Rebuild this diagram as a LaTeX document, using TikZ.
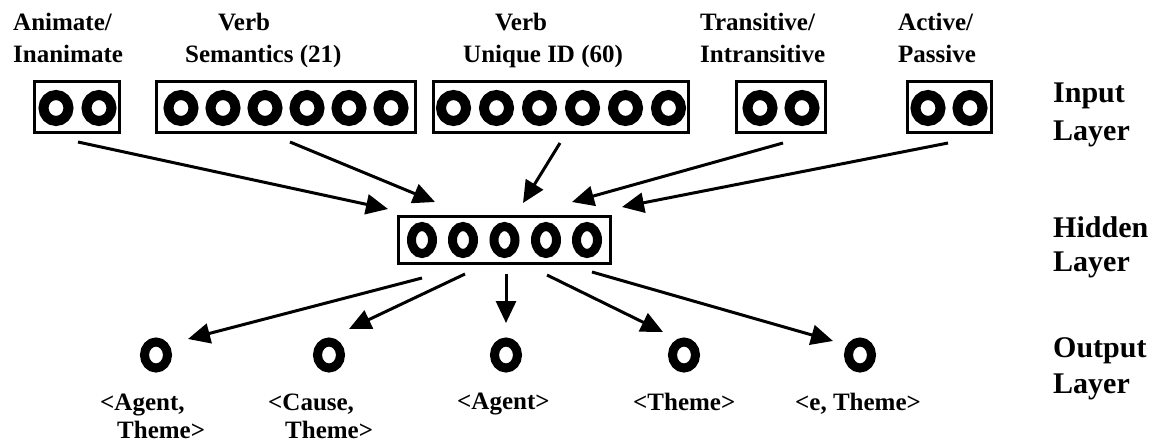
\documentclass[tikz,border=0pt]{standalone}
\usepackage{fontspec}
\setmainfont{Liberation Serif}
\usetikzlibrary{shapes.geometric,arrows.meta}
\tikzset{
  lbl/.style={inner sep=0pt, anchor=base west, font=\fontsize{25}{30}\selectfont\bfseries},
  layerlbl/.style={inner sep=0pt, anchor=base west, font=\fontsize{30}{36}\selectfont\bfseries},
  box/.style={draw, line width=3pt, rectangle, inner sep=0pt},
  inring/.style={draw, ellipse, line width=10pt, inner sep=0pt, minimum width=25pt, minimum height=26pt},
  hidring/.style={draw, ellipse, line width=9pt, inner sep=0pt, minimum width=21pt, minimum height=27pt},
  outring/.style={draw, ellipse, line width=9pt, inner sep=0pt, minimum width=23pt, minimum height=26pt},
  conn/.style={line width=3pt, -{Triangle[length=22pt,width=20pt]}}
}
\begin{document}
\begin{tikzpicture}[x=1pt,y=-1pt]
\useasboundingbox (0,0) rectangle (1149,445);
\fill[white] (0,0) rectangle (1149,445);

% input labels
\node[lbl] (l1a) at (13,30) {Animate/};
\node[lbl] (l1b) at (13,62) {Inanimate};
\node[lbl] (l2a) at (218,30) {Verb};
\node[lbl] (l2b) at (185,62) {Semantics (21)};
\node[lbl] (l3a) at (495,30) {Verb};
\node[lbl] (l3b) at (463,62) {Unique ID (60)};
\node[lbl] (l4a) at (700,30) {Transitive/};
\node[lbl] (l4b) at (700,62) {Intransitive};
\node[lbl] (l5a) at (898,30) {Active/};
\node[lbl] (l5b) at (898,62) {Passive};

% layer labels
\node[layerlbl] (inA) at (1053,102) {Input};
\node[layerlbl] (inB) at (1053,140) {Layer};
\node[layerlbl] (hiA) at (1053,237) {Hidden};
\node[layerlbl] (hiB) at (1053,271) {Layer};
\node[layerlbl] (ouA) at (1053,357) {Output};
\node[layerlbl] (ouB) at (1053,393) {Layer};

% input boxes
\node[box, minimum width=85pt, minimum height=51pt] (bAnim) at (77,106.5) {};
\node[box, minimum width=259pt, minimum height=51pt] (bSem) at (286,106.5) {};
\node[box, minimum width=255pt, minimum height=51pt] (bUid) at (561,106.5) {};
\node[box, minimum width=89pt, minimum height=51pt] (bTra) at (781,106.5) {};
\node[box, minimum width=84pt, minimum height=51pt] (bAct) at (949.5,106.5) {};

% input rings
\foreach \x [count=\i] in {56,99} \node[inring] (ra\i) at (\x,108) {};
\foreach \x [count=\i] in {181,223,265,307,349,391} \node[inring] (rs\i) at (\x,108) {};
\foreach \x [count=\i] in {453.5,496.5,539.5,582.5,625.5,668.5} \node[inring] (ru\i) at (\x,108) {};
\foreach \x [count=\i] in {760,802} \node[inring] (rt\i) at (\x,108) {};
\foreach \x [count=\i] in {928,970} \node[inring] (rp\i) at (\x,108) {};

% hidden layer
\node[box, minimum width=212pt, minimum height=47pt] (bHid) at (504.5,240) {};
\foreach \x [count=\i] in {422,463,504.5,546,587} \node[hidring] (rh\i) at (\x,240) {};

% output layer
\node[outring] (o1) at (156,355) {};
\node[outring] (o2) at (329,355) {};
\node[outring] (o3) at (506,355) {};
\node[outring] (o4) at (684,355) {};
\node[outring] (o5) at (860,355) {};

\node[lbl] (t1a) at (100,410) {<Agent,};
\node[lbl] (t1b) at (117,438) {Theme>};
\node[lbl] (t2a) at (268,410) {<Cause,};
\node[lbl] (t2b) at (285,438) {Theme>};
\node[lbl] (t3) at (457,409) {<Agent>};
\node[lbl] (t4) at (633,410) {<Theme>};
\node[lbl] (t5) at (795,410) {<e, Theme>};

% connector end points
\coordinate (sA) at (78,142);  \coordinate (eA) at (388,209);
\coordinate (sS) at (290,142); \coordinate (eS) at (435,202);
\coordinate (sU) at (560,143); \coordinate (eU) at (523,203);
\coordinate (sT) at (783,143); \coordinate (eT) at (572,202);
\coordinate (sP) at (948,143); \coordinate (eP) at (622,207);

\coordinate (h1) at (422,278); \coordinate (p1) at (188,339);
\coordinate (h2) at (465,274); \coordinate (p2) at (349,329);
\coordinate (h3) at (506,274); \coordinate (p3) at (506,323);
\coordinate (h4) at (547,275); \coordinate (p4) at (663,332);
\coordinate (h5) at (592,272); \coordinate (p5) at (833,341);

\draw[conn] (sA) -- (eA);
\draw[conn] (sS) -- (eS);
\draw[conn] (sU) -- (eU);
\draw[conn] (sT) -- (eT);
\draw[conn] (sP) -- (eP);

\draw[conn] (h1) -- (p1);
\draw[conn] (h2) -- (p2);
\draw[conn] (h3) -- (p3);
\draw[conn] (h4) -- (p4);
\draw[conn] (h5) -- (p5);
\end{tikzpicture}
\end{document}
